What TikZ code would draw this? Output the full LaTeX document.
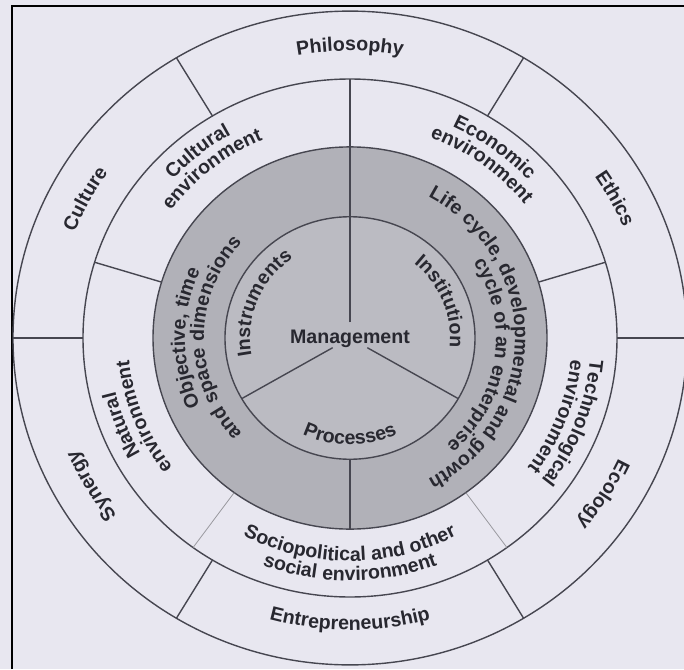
\documentclass[tikz,border=0pt]{standalone}
\usepackage{fontspec}
\setmainfont{Liberation Sans}
\usetikzlibrary{decorations.text}

\definecolor{paper}{RGB}{232,231,240}
\definecolor{ringgrey}{RGB}{177,177,184}
\definecolor{coregrey}{RGB}{187,187,194}
\definecolor{inkline}{RGB}{70,70,80}
\definecolor{inktext}{RGB}{40,40,48}
\newcommand{\ringfont}{\bfseries\fontsize{9.8}{11}\selectfont}

\begin{document}
\begin{tikzpicture}[
  x=0.5pt, y=0.5pt,
  ring/.style={draw=inkline, line width=0.7pt},
  divider/.style={draw=inkline, line width=0.7pt},
  faintdivider/.style={draw=inkline!55, line width=0.4pt},
  arclabel/.style={decorate, decoration={text along path, text align=center,
    text color=inktext, text={|\ringfont|#1}}}
]

% Paper and frame
\fill[paper] (-350,-331) rectangle (334,338);
\useasboundingbox (-350,-331) rectangle (334,338);
\draw[black, line width=0.9pt] (-338,-331) -- (-338,332) -- (334,332);

\begin{scope}[yscale=0.97]

% Shaded core
\fill[ringgrey] (0,0) circle (197);
\fill[coregrey] (0,0) circle (125);

% Rings
\draw[ring] (0,0) circle (337);
\draw[ring] (0,0) circle (267);
\draw[ring] (0,0) circle (197);
\draw[ring] (0,0) circle (125);

% Outer ring dividers
\draw[divider] (0:267) -- (0:337);
\draw[divider] (59:267) -- (59:337);
\draw[divider] (121:267) -- (121:337);
\draw[divider] (180:267) -- (180:337);
\draw[divider] (239:267) -- (239:337);
\draw[divider] (301:267) -- (301:337);

% Environment ring dividers
\draw[divider] (90:16) -- (90:267);
\draw[divider] (17:197) -- (17:267);
\draw[divider] (163:197) -- (163:267);
\draw[faintdivider] (234:197) -- (234:267);
\draw[faintdivider] (306:197) -- (306:267);

% Core dividers
\draw[divider] (270:125) -- (270:197);
\draw[divider] (210:20) -- (210:125);
\draw[divider] (330:20) -- (330:125);

% Outer ring labels
\path[arclabel={Philosophy}] (140:296) arc[start angle=140, end angle=40, radius=296];
\path[arclabel={Ethics}] (78:296) arc[start angle=78, end angle=-22, radius=296];
\path[arclabel={Ecology}] (18:296) arc[start angle=18, end angle=-82, radius=296];
\path[arclabel={Synergy}] (260:296) arc[start angle=260, end angle=160, radius=296];
\path[arclabel={Culture}] (202:296) arc[start angle=202, end angle=102, radius=296];
\path[arclabel={Entrepreneurship}] (210:301) arc[start angle=210, end angle=330, radius=301];

% Environment ring labels
\path[arclabel={Cultural}] (189:241) arc[start angle=189, end angle=69, radius=241];
\path[arclabel={environment}] (189:222) arc[start angle=189, end angle=69, radius=222];
\path[arclabel={Economic}] (113:241) arc[start angle=113, end angle=-7, radius=241];
\path[arclabel={environment}] (113:222) arc[start angle=113, end angle=-7, radius=222];
\path[arclabel={Natural}] (261:241) arc[start angle=261, end angle=141, radius=241];
\path[arclabel={environment}] (261:222) arc[start angle=261, end angle=141, radius=222];
\path[arclabel={Technological}] (39:241) arc[start angle=39, end angle=-81, radius=241];
\path[arclabel={environment}] (39:222) arc[start angle=39, end angle=-81, radius=222];
\path[arclabel={Sociopolitical and other}] (200:230) arc[start angle=200, end angle=340, radius=230];
\path[arclabel={social environment}] (200:250) arc[start angle=200, end angle=340, radius=250];

% Grey ring labels
\path[arclabel={Objective, time}] (270:165) arc[start angle=270, end angle=90, radius=165];
\path[arclabel={and space dimensions}] (270:146) arc[start angle=270, end angle=90, radius=146];
\path[arclabel={Life cycle, developmental and growth}] (95:165) arc[start angle=95, end angle=-95, radius=165];
\path[arclabel={cycle of an enterprise}] (82:146) arc[start angle=82, end angle=-98, radius=146];

% Core labels
\path[arclabel={Instruments}] (238:100) arc[start angle=238, end angle=78, radius=100];
\path[arclabel={Institution}] (102:100) arc[start angle=102, end angle=-58, radius=100];
\path[arclabel={Processes}] (190:110) arc[start angle=190, end angle=350, radius=110];

% Centre
\node[text=inktext, font=\ringfont] (mgmt) at (0,-1) {Management};

\end{scope}

\end{tikzpicture}
\end{document}
